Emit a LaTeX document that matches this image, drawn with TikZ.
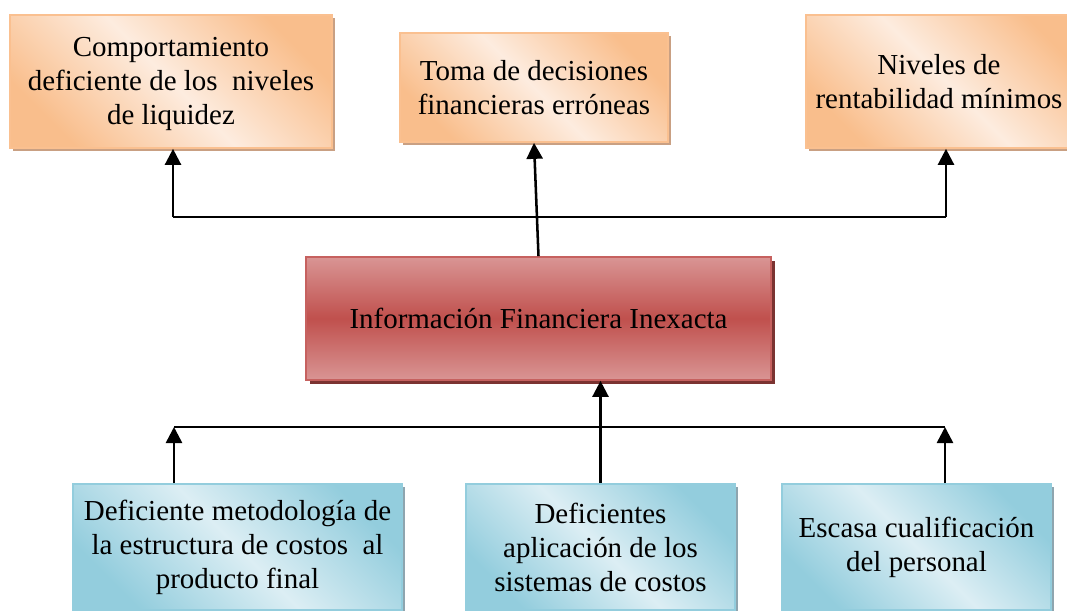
\documentclass[tikz,border=0pt]{standalone}
\usepackage{fontspec}
\setmainfont{Liberation Serif}
\usetikzlibrary{calc,positioning,shadows,arrows.meta}
\definecolor{naranja}{HTML}{F9BE8C}
\definecolor{naranjaclaro}{HTML}{FDECDF}
\definecolor{naranjaborde}{HTML}{FAC090}
\definecolor{sombranaranja}{HTML}{C9A083}
\definecolor{rojo}{HTML}{C0504D}
\definecolor{rojoclaro}{HTML}{D99594}
\definecolor{sombrarojo}{HTML}{7B3331}
\definecolor{azul}{HTML}{93CDDD}
\definecolor{azulclaro}{HTML}{DCEEF4}
\definecolor{sombraazul}{HTML}{8EA5AF}

\begin{document}
\begin{tikzpicture}[x=0.025cm,y=-0.025cm]

\tikzset{caja/.style={align=center,inner sep=0pt,font=\fontsize{20.6}{24.2}\selectfont,line width=1.2pt},
efecto/.style={caja,draw=naranjaborde,left color=naranja,right color=naranja,middle color=naranjaclaro,shading angle=135,
  drop shadow={shadow xshift=0.8mm,shadow yshift=-0.8mm,fill=sombranaranja,opacity=1}},
problema/.style={caja,draw=rojo!90,top color=rojoclaro,bottom color=rojoclaro,middle color=rojo,
  drop shadow={shadow xshift=1mm,shadow yshift=-1mm,fill=sombrarojo,opacity=1}},
causa/.style={caja,draw=azul,left color=azul,right color=azul,middle color=azulclaro,shading angle=135,
  drop shadow={shadow xshift=0.8mm,shadow yshift=-0.8mm,fill=sombraazul,opacity=1}},
bus/.style={line width=1.2pt},
flecha/.style={line width=1.8pt,-{Triangle[length=4mm,width=4mm]}}}

\useasboundingbox (0,0) rectangle (1067,611);

% Effects
\node[efecto,minimum width=8.05cm,minimum height=3.325cm] (comp) at (171,81.5) {\\[-0.25cm]Comportamiento\\deficiente de los \ niveles\\de liquidez};
\node[efecto,minimum width=6.7cm,minimum height=2.725cm] (toma) at (534,87.5) {Toma de decisiones\\financieras erróneas};
\node[efecto,minimum width=7cm,minimum height=3.325cm] (niv) at (946,81.5) {\hspace*{-0.35cm}Niveles de\\\hspace*{-0.35cm}rentabilidad mínimos};

% Central problem
\node[problema,minimum width=11.625cm,minimum height=3.075cm] (info) at (538.5,318.5) {Información Financiera Inexacta};

% Causes
\node[causa,minimum width=8.225cm,minimum height=3.15cm] (costos) at (237.5,547) {Deficiente metodología de\\la estructura de costos \ al\\producto final};
\node[causa,minimum width=6.725cm,minimum height=3.15cm] (sistemas) at (600.5,547) {Deficientes\\aplicación de los\\sistemas de costos};
\node[causa,minimum width=6.725cm,minimum height=3.15cm] (personal) at (916.5,547) {Escasa cualificación\\del personal};

% Upper connectors
\coordinate (busA) at (173,217);
\coordinate (busB) at (946,217);
\draw[bus] (busA) -- (busB);
\draw[flecha] (busA) -- (busA |- comp.south);
\draw[flecha] (busB) -- (niv.south);
\draw[flecha] (info.north) -- (toma.south);

% Lower connectors
\coordinate (busC) at (174,427);
\coordinate (busD) at (945,427);
\draw[bus] (busC) -- (busD);
\draw[flecha] (busC |- costos.north) -- (busC);
\draw[flecha] (busD |- personal.north) -- (busD);
\draw[flecha] (sistemas.north) -- (sistemas.north |- info.south);

\end{tikzpicture}
\end{document}
